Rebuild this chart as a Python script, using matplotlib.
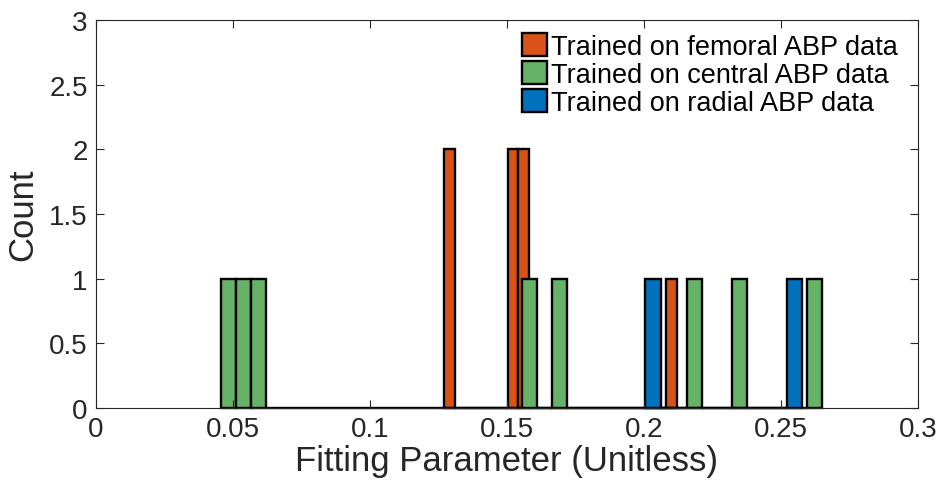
import numpy as np
import matplotlib
matplotlib.use("Agg")
import matplotlib.pyplot as plt

plt.rcParams['font.family'] = ['Liberation Sans', 'DejaVu Sans']

# Histogram bins: first edge, bin width and count per bin for each training set
femoral_start = 0.1272
femoral_width = 0.00385
femoral_counts = [2, 0, 0, 0, 0, 0, 2, 2, 0, 0, 0, 0, 0, 0, 0, 0, 0, 0, 0, 0, 0, 1]

central_start = 0.04555
central_width = 0.00549
central_counts = [1, 1, 1, 0, 0, 0, 0, 0, 0, 0, 0, 0, 0, 0, 0, 0, 0, 0, 0, 0,
                  1, 0, 1, 0, 0, 0, 0, 0, 0, 0, 0, 1, 0, 0, 1, 0, 0, 0, 0, 1]

radial_start = 0.2003
radial_width = 0.00575
radial_counts = [1, 0, 0, 0, 0, 0, 0, 0, 0, 1]

series_labels = ['Trained on femoral ABP data',
                 'Trained on central ABP data',
                 'Trained on radial ABP data']
series_colors = ['#D95319', '#66B266', '#0072BD']

x_ticks = [0, 0.05, 0.1, 0.15, 0.2, 0.25, 0.3]
x_tick_labels = ['0', '0.05', '0.1', '0.15', '0.2', '0.25', '0.3']
y_ticks = [0, 0.5, 1, 1.5, 2, 2.5, 3]
y_tick_labels = ['0', '0.5', '1', '1.5', '2', '2.5', '3']

fig = plt.figure(figsize=(9.41, 4.81), dpi=100)
ax = fig.add_axes([0.102, 0.1497, 0.8735, 0.8066])

axis_color = '#262626'
series = [(femoral_start, femoral_width, femoral_counts),
          (central_start, central_width, central_counts),
          (radial_start, radial_width, radial_counts)]
for (start, width, counts), label, color in zip(series, series_labels, series_colors):
    lefts = start + width * np.arange(len(counts))
    ax.bar(lefts, counts, width=width, align='edge', facecolor=color,
           edgecolor='black', linewidth=1.7, label=label, clip_on=False)

ax.set_xlim(0, 0.3)
ax.set_ylim(0, 3)
ax.set_xticks(x_ticks)
ax.set_xticklabels(x_tick_labels)
ax.set_yticks(y_ticks)
ax.set_yticklabels(y_tick_labels)
ax.tick_params(direction='in', length=6, width=0.8, colors=axis_color,
               labelsize=20, top=True, right=True, pad=6)
for spine in ax.spines.values():
    spine.set_color(axis_color)
    spine.set_linewidth(0.8)

ax.set_xlabel('Fitting Parameter (Unitless)', fontsize=25, color=axis_color, labelpad=1)
ax.set_ylabel('Count', fontsize=25, color=axis_color, labelpad=7)

ax.legend(loc='upper right', bbox_to_anchor=(0.995, 1.008), frameon=False,
          fontsize=19.5, handlelength=0.95, handleheight=0.9, handletextpad=0.12,
          labelspacing=0.05, borderaxespad=0.2)

fig.savefig('out.png', dpi=100)
